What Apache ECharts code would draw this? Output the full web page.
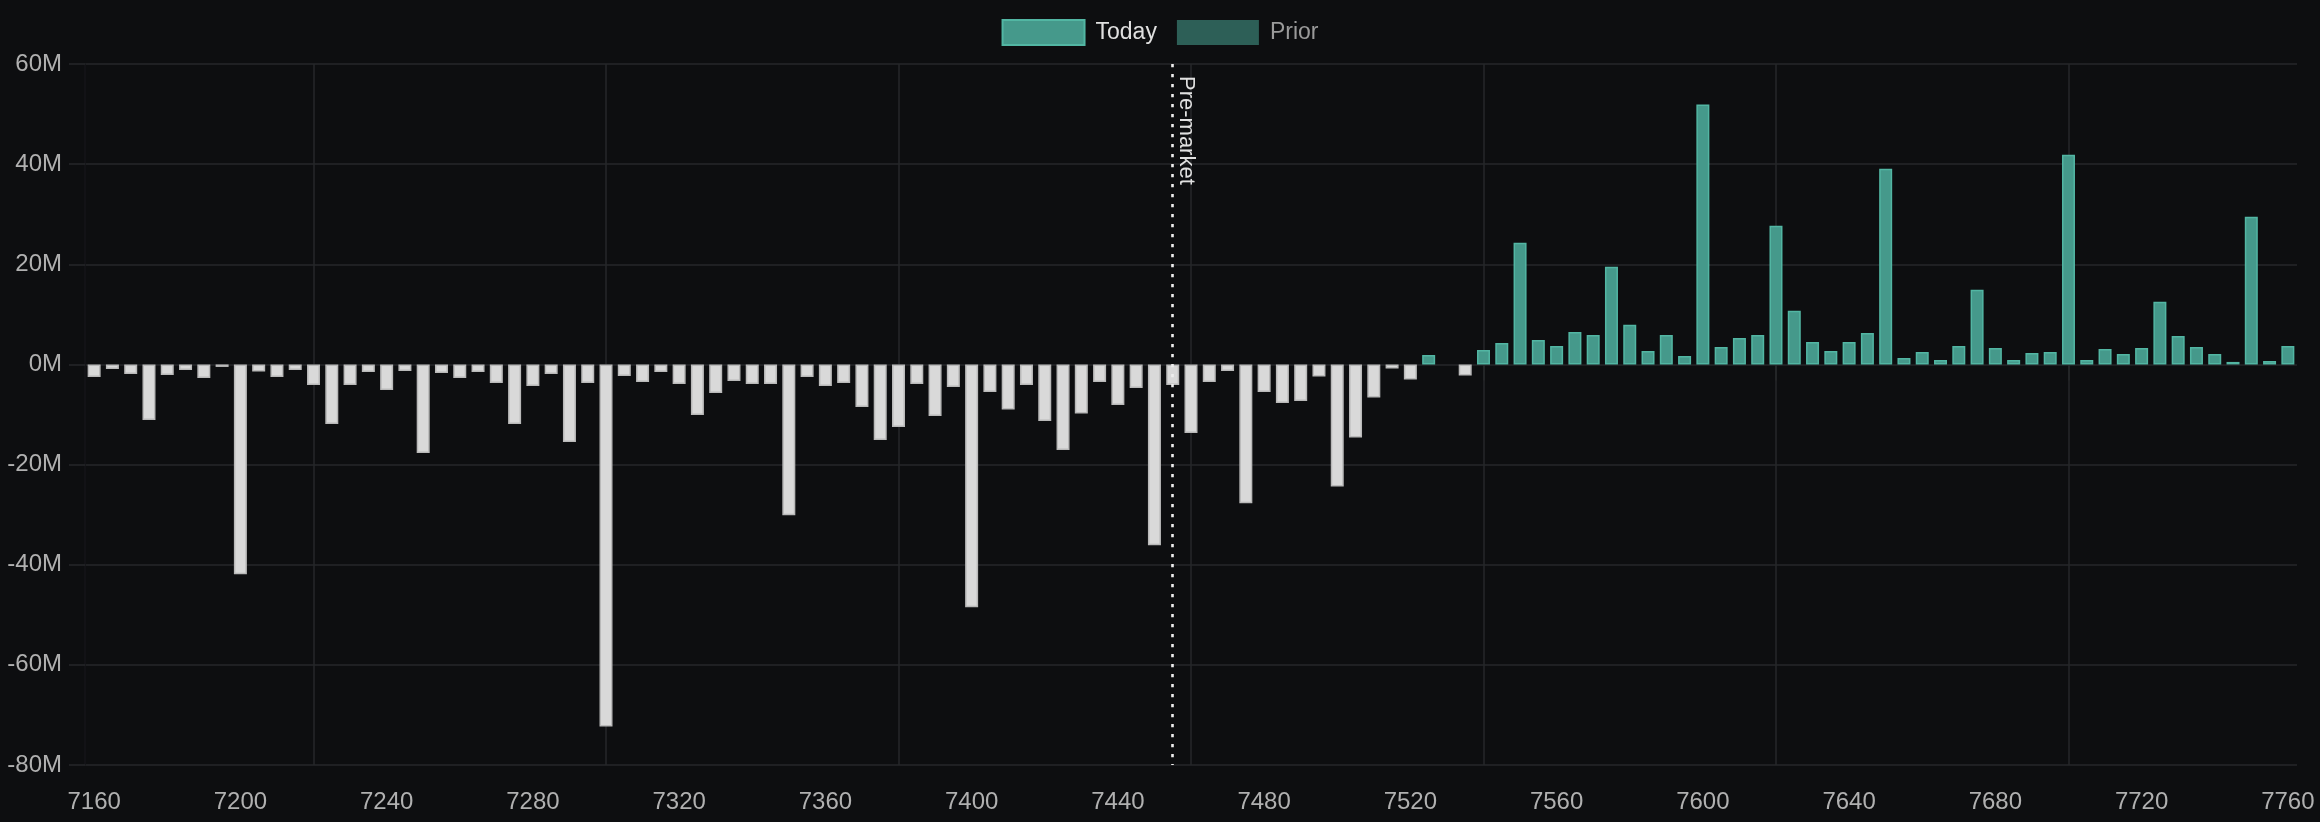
<!DOCTYPE html>
<html>
<head>
<meta charset="utf-8">
<title>Net premium by strike</title>
<script src="https://cdn.jsdelivr.net/npm/echarts@6/dist/echarts.min.js"></script>
<style>
  html, body { margin: 0; padding: 0; background: #0d0e10; }
  #chart { width: 2320px; height: 822px; }
</style>
</head>
<body>
<div id="chart"></div>
<script>
// strikes on the x axis
var strikes = [
  '7160','7165','7170','7175','7180','7185','7190','7195',
  '7200','7205','7210','7215','7220','7225','7230','7235',
  '7240','7245','7250','7255','7260','7265','7270','7275',
  '7280','7285','7290','7295','7300','7305','7310','7315',
  '7320','7325','7330','7335','7340','7345','7350','7355',
  '7360','7365','7370','7375','7380','7385','7390','7395',
  '7400','7405','7410','7415','7420','7425','7430','7435',
  '7440','7445','7450','7455','7460','7465','7470','7475',
  '7480','7485','7490','7495','7500','7505','7510','7515',
  '7520','7525','7530','7535','7540','7545','7550','7555',
  '7560','7565','7570','7575','7580','7585','7590','7595',
  '7600','7605','7610','7615','7620','7625','7630','7635',
  '7640','7645','7650','7655','7660','7665','7670','7675',
  '7680','7685','7690','7695','7700','7705','7710','7715',
  '7720','7725','7730','7735','7740','7745','7750','7755',
  '7760'
];

// today's values, in millions
var todayValues = [
  -2.5, -0.9, -1.9, -11.1, -2.1, -1.1, -2.7, -0.5,
  -41.9, -1.4, -2.5, -1.1, -4.1, -11.9, -4.1, -1.5,
  -5.1, -1.3, -17.7, -1.7, -2.7, -1.5, -3.7, -11.9,
  -4.3, -1.9, -15.5, -3.7, -72.3, -2.3, -3.5, -1.5,
  -3.9, -10.1, -5.7, -3.3, -3.9, -3.9, -30.1, -2.5,
  -4.3, -3.7, -8.5, -15.1, -12.5, -3.9, -10.3, -4.5,
  -48.5, -5.5, -9.0, -4.1, -11.3, -17.1, -9.8, -3.5,
  -8.1, -4.7, -36.1, -4.1, -13.7, -3.5, -1.3, -27.7,
  -5.5, -7.7, -7.3, -2.4, -24.4, -14.6, -6.6, -0.8,
  -3.0, 1.9, 0, -2.2, 2.9, 4.3, 24.3, 4.9,
  3.7, 6.5, 5.9, 19.5, 7.9, 2.7, 5.9, 1.7,
  51.9, 3.5, 5.3, 5.9, 27.7, 10.7, 4.5, 2.7,
  4.5, 6.3, 39.1, 1.3, 2.5, 0.9, 3.7, 14.9,
  3.3, 0.9, 2.3, 2.5, 41.9, 0.9, 3.1, 2.1,
  3.3, 12.5, 5.7, 3.5, 2.1, 0.5, 29.5, 0.7,
  3.7
];

// prior day series is switched off in the legend, nothing to draw
var priorValues = [];

var preMarketStrike = '7455';
var yMin = -80, yMax = 60, yStep = 20;

var fontFamily = '"Liberation Sans", Helvetica, Arial, sans-serif';
var gridColor = '#26272a';
var tickColor = '#b0b0b0';

var posStyle = { color: '#45998b', borderColor: '#52b6a3', borderWidth: 1.5 };
var negStyle = { color: '#d9d9d9', borderColor: '#b9b9b9', borderWidth: 1.5 };

var todayData = todayValues.map(function (v) {
  var st = v < 0 ? negStyle : posStyle;
  if (v === 0) {
    st = { color: st.color, borderWidth: 0 };
  }
  return { value: v, itemStyle: st };
});

var chart = echarts.init(document.getElementById('chart'));

var option = {
  backgroundColor: '#0d0e10',
  animation: false,
  textStyle: { fontFamily: fontFamily },
  legend: {
    top: 19,
    left: 'center',
    padding: 0,
    itemWidth: 82,
    itemHeight: 25,
    itemGap: 20,
    textStyle: { color: '#e0e0e0', fontSize: 23, fontFamily: fontFamily, padding: [0, 0, 0, 6] },
    data: [
      { name: 'Today', icon: 'rect' },
      { name: 'Prior', icon: 'rect', textStyle: { color: '#9a9a9a' } }
    ]
  },
  grid: {
    left: 85,
    right: 23,
    top: 64,
    bottom: 57
  },
  xAxis: {
    type: 'category',
    data: strikes,
    boundaryGap: true,
    axisLine: { show: false },
    axisTick: {
      show: true,
      alignWithLabel: true,
      length: 16,
      interval: function (i) { return i % 16 === 12; },
      lineStyle: { color: gridColor, width: 1.5 }
    },
    axisLabel: {
      interval: function (i) { return i % 8 === 0; },
      color: tickColor,
      fontSize: 24,
      margin: 25,
      fontFamily: fontFamily
    },
    splitLine: {
      show: true,
      alignWithLabel: true,
      interval: function (i) { return i % 16 === 12; },
      lineStyle: { color: gridColor, width: 1.5 }
    }
  },
  yAxis: {
    type: 'value',
    min: yMin,
    max: yMax,
    interval: yStep,
    axisLine: { show: true, lineStyle: { color: '#141518', width: 1.5 } },
    axisTick: { show: true, length: 16, lineStyle: { color: gridColor, width: 1.5 } },
    axisLabel: {
      formatter: '{value}M',
      color: tickColor,
      fontSize: 24,
      margin: 23,
      fontFamily: fontFamily
    },
    splitLine: { show: true, lineStyle: { color: gridColor, width: 1.5 } }
  },
  series: [
    {
      name: 'Today',
      type: 'bar',
      barWidth: 13,
      barGap: '-100%',
      itemStyle: posStyle,
      data: todayData,
      markLine: {
        silent: true,
        symbol: 'none',
        lineStyle: { color: '#eeeeee', width: 2.6, type: [3.3, 6.7] },
        label: {
          show: true,
          position: 'insideStartTop',
          formatter: 'Pre-market',
          color: '#e0e0e0',
          fontSize: 22,
          fontFamily: fontFamily,
          distance: [12, 2]
        },
        data: [[
          { coord: [preMarketStrike, yMax] },
          { coord: [preMarketStrike, yMin] }
        ]]
      }
    },
    {
      name: 'Prior',
      type: 'bar',
      barWidth: 13,
      barGap: '-100%',
      itemStyle: { color: '#2d5f57' },
      data: priorValues
    }
  ]
};

chart.setOption(option);

window.addEventListener('resize', function () {
  chart.resize();
});
</script>
</body>
</html>
